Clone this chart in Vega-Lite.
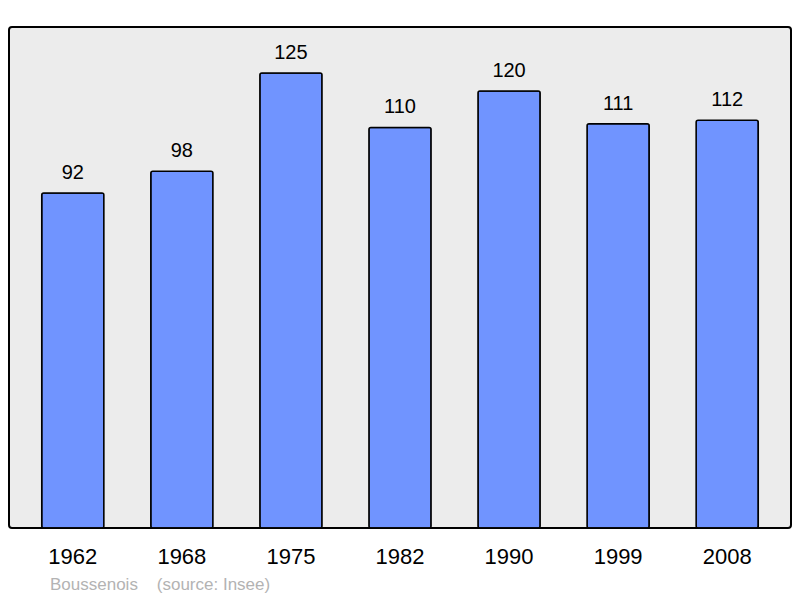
{
  "$schema": "https://vega.github.io/schema/vega-lite/v6.json",
  "width": 782,
  "height": 501,
  "autosize": {"type": "none"},
  "padding": {"left": 9, "top": 27, "right": 9, "bottom": 70},
  "background": "#ffffff",
  "config": {
    "font": "Liberation Sans",
    "view": {"fill": "#ececec", "stroke": "#000000", "strokeWidth": 2, "cornerRadius": 3}
  },
  "title": {
    "text": "Boussenois\u00a0\u00a0\u00a0\u00a0(source: Insee)",
    "orient": "bottom",
    "anchor": "start",
    "dx": 41,
    "offset": 10,
    "fontSize": 17,
    "fontWeight": "normal",
    "color": "#b3b3b3",
    "font": "Liberation Sans"
  },
  "data": {
    "values": [
      {"year": "1962", "pop": 92},
      {"year": "1968", "pop": 98},
      {"year": "1975", "pop": 125},
      {"year": "1982", "pop": 110},
      {"year": "1990", "pop": 120},
      {"year": "1999", "pop": 111},
      {"year": "2008", "pop": 112}
    ]
  },
  "encoding": {
    "x": {
      "field": "year",
      "type": "nominal",
      "sort": null,
      "scale": {"paddingInner": 0.43, "paddingOuter": 0.3},
      "axis": {
        "title": null,
        "domain": false,
        "ticks": false,
        "labelAngle": 0,
        "labelFontSize": 22,
        "labelColor": "#000000",
        "labelPadding": 18,
        "labelFont": "Liberation Sans"
      }
    },
    "y": {
      "field": "pop",
      "type": "quantitative",
      "scale": {"domain": [0, 137.6], "nice": false, "zero": true},
      "axis": null
    }
  },
  "layer": [
    {
      "mark": {"type": "bar", "color": "#7094ff", "stroke": "#000000", "strokeWidth": 1.5, "cornerRadius": 2}
    },
    {
      "mark": {"type": "text", "baseline": "alphabetic", "dy": -14, "fontSize": 20, "color": "#000000", "font": "Liberation Sans"},
      "encoding": {"text": {"field": "pop", "type": "quantitative"}}
    }
  ]
}
